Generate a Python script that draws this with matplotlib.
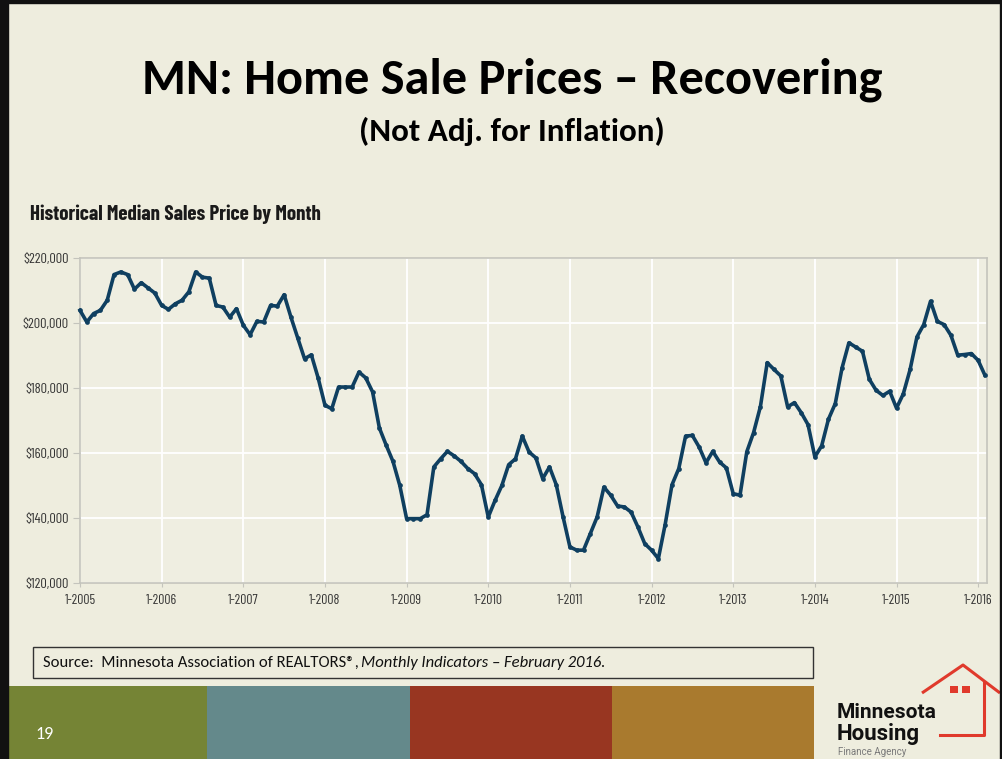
import matplotlib
matplotlib.use("Agg")
import matplotlib.pyplot as plt
from matplotlib import font_manager as fm
from matplotlib.patches import Rectangle
import numpy as np

# ---------------- data ----------------
title = "MN: Home Sale Prices \u2013 Recovering"
subtitle = "(Not Adj. for Inflation)"
chart_title = "Historical Median Sales Price by Month"
year_labels = ["1-2005", "1-2006", "1-2007", "1-2008", "1-2009", "1-2010",
               "1-2011", "1-2012", "1-2013", "1-2014", "1-2015", "1-2016"]
y_ticks = [120000, 140000, 160000, 180000, 200000, 220000]
y_tick_labels = ["$120,000", "$140,000", "$160,000", "$180,000", "$200,000", "$220,000"]

# median sale price, thousands of dollars, Jan 2005 .. Feb 2016
p2005 = [203.9, 200.3, 202.9, 203.9, 207.0, 214.9, 215.7, 214.9, 210.4, 212.4, 210.8, 209.2]
p2006 = [205.4, 204.2, 205.9, 207.0, 209.6, 215.7, 214.1, 213.8, 205.4, 204.9, 201.8, 204.4]
p2007 = [199.3, 196.4, 200.5, 200.3, 205.4, 205.2, 208.7, 201.8, 195.4, 189.0, 190.2, 183.1]
p2008 = [174.7, 173.6, 180.3, 180.3, 180.3, 184.9, 183.1, 178.8, 167.7, 162.4, 157.4, 150.0]
p2009 = [139.8, 139.8, 139.8, 141.0, 155.7, 158.2, 160.5, 159.1, 157.4, 155.2, 153.6, 150.2]
p2010 = [140.3, 145.4, 150.0, 156.4, 158.2, 165.2, 160.3, 158.5, 152.1, 155.7, 150.2, 140.3]
p2011 = [131.1, 130.1, 130.1, 135.2, 140.3, 149.5, 147.0, 143.7, 143.4, 141.8, 137.2, 132.1]
p2012 = [130.1, 127.5, 138.0, 150.2, 155.2, 165.2, 165.4, 161.8, 157.0, 160.5, 157.2, 155.4]
p2013 = [147.5, 147.0, 160.4, 166.3, 174.3, 187.8, 185.7, 183.7, 174.2, 175.5, 172.4, 168.7]
p2014 = [158.8, 162.2, 170.4, 175.2, 186.2, 193.9, 192.6, 191.3, 182.7, 179.3, 177.7, 179.0]
p2015 = [173.8, 178.2, 185.7, 195.7, 199.5, 206.7, 200.5, 199.5, 196.2, 190.1, 190.3, 190.6]
p2016 = [188.5, 183.9]

source_plain = "Source:  Minnesota Association of REALTORS\u00ae, "
source_italic = "Monthly Indicators \u2013 February 2016."
slide_number = "19"
logo_lines = ["Minnesota", "Housing", "Finance Agency"]
band_colors = ["#758435", "#64898B", "#983621", "#A97A2E"]

prices = np.array(p2005 + p2006 + p2007 + p2008 + p2009 + p2010 + p2011 +
                  p2012 + p2013 + p2014 + p2015 + p2016) * 1000
months = np.arange(len(prices))
year_pos = np.arange(len(year_labels)) * 12

# ---------------- fonts ----------------
names = {f.name for f in fm.fontManager.ttflist}


def pick(cands, default="DejaVu Sans"):
    for c in cands:
        if c in names:
            return c
    return default


head = pick(["Carlito", "Lato", "Open Sans"])
cond = pick(["Barlow Condensed", "Archivo Narrow", "Roboto Condensed",
             "IBM Plex Sans Condensed", "Open Sans Condensed"])
logo_font = pick(["Roboto", "Lato", "DejaVu Sans"])

W, H = 1003, 759
BG = "#EEEDDE"
fig = plt.figure(figsize=(W / 100, H / 100), dpi=100)
fig.patch.set_facecolor(BG)
renderer = fig.canvas.get_renderer()


def fit(t, target_w):
    """scale the font size of text t so that it is target_w pixels wide"""
    w = t.get_window_extent(renderer=renderer).width
    if w > 0:
        t.set_fontsize(t.get_fontsize() * target_w / w)
    return t


# overlay in pixel coordinates
ov = fig.add_axes([0, 0, 1, 1])
ov.set_xlim(0, W)
ov.set_ylim(H, 0)
ov.axis("off")

# slide border
ov.add_patch(Rectangle((0, 0), 8, H, color="#111111", zorder=5))
ov.add_patch(Rectangle((0, 0), W, 3, color="#111111", zorder=5))
ov.add_patch(Rectangle((W - 3, 0), 3, H, color="#111111", zorder=5))

fit(ov.text(512.5, 80, title, ha="center", va="center", fontsize=30, fontweight="bold",
            family=head, color="#000000"), 739)
fit(ov.text(511.5, 131, subtitle, ha="center", va="center", fontsize=20, fontweight="bold",
            family=head, color="#000000"), 307)
fit(ov.text(30, 214, chart_title, ha="left", va="center", fontsize=17, fontweight="bold",
            family=cond, color="#1a1a1a"), 292)

# source box
ov.add_patch(Rectangle((33, 647), 780, 31, facecolor="none", edgecolor="#333333", lw=1.0))
t1 = ov.text(43, 663, source_plain, ha="left", va="center", fontsize=11, family=head,
             color="#111111")
t2 = ov.text(0, 663, source_italic, ha="left", va="center", fontsize=11, family=head,
             style="italic", color="#111111")
w1 = t1.get_window_extent(renderer=renderer).width
w2 = t2.get_window_extent(renderer=renderer).width
scale = (609 - 43) / (w1 + w2)
t1.set_fontsize(11 * scale)
t2.set_fontsize(11 * scale)
w1 = t1.get_window_extent(renderer=renderer).width
t2.set_x(43 + w1 - 2)

# bottom colour bands
edges = [8, 207, 410, 612, 814]
for c, x0, x1 in zip(band_colors, edges[:-1], edges[1:]):
    ov.add_patch(Rectangle((x0, 686), x1 - x0, H - 686, color=c, lw=0))
ov.text(35, 739, slide_number, ha="left", va="baseline", fontsize=13, family=head,
        color="white")

# logo
red = "#E03A2C"
ov.plot([922, 963, 1000], [693, 665, 693], color=red, lw=2.2, solid_capstyle="butt")
ov.plot([984, 984, 940], [682, 735, 735], color=red, lw=2.2)
for wx in (950, 962):
    ov.add_patch(Rectangle((wx, 686), 8, 7, color=red, lw=0))
ov.text(837, 718, logo_lines[0], ha="left", va="baseline", fontsize=15, fontweight="bold",
        family=logo_font, color="#111111")
ov.text(837, 740, logo_lines[1], ha="left", va="baseline", fontsize=16, fontweight="bold",
        family=logo_font, color="#111111")
ov.text(838, 755, logo_lines[2], ha="left", va="baseline", fontsize=7,
        family=logo_font, color="#7a7a7a")

# ---------------- chart ----------------
left, right, top, bottom = 80, 987, 258, 583
ax = fig.add_axes([left / W, 1 - bottom / H, (right - left) / W, (bottom - top) / H])
ax.set_facecolor("#EFEEE1")
ax.plot(months, prices, color="#0F3F60", lw=2.6, marker="o", ms=3.4,
        markerfacecolor="#0F3F60", markeredgewidth=0, zorder=3, clip_on=False)
ax.set_xlim(0, 133.3)
ax.set_ylim(120000, 220000)
ax.set_xticks(year_pos)
ax.set_yticks(y_ticks)

# tick label size fitted to the reference label widths
probe_x = ov.text(0, -100, year_labels[0], family=cond, fontsize=9)
probe_y = ov.text(0, -100, y_tick_labels[0], family=cond, fontsize=9)
fit(probe_x, 31)
fit(probe_y, 43)
xs, ys = probe_x.get_fontsize(), probe_y.get_fontsize()
probe_x.remove()
probe_y.remove()
ax.set_xticklabels(year_labels, family=cond, fontsize=xs, color="#333333")
ax.set_yticklabels(y_tick_labels, family=cond, fontsize=ys, color="#333333")
for lab in ax.get_xticklabels():
    lab.set_verticalalignment("baseline")
ax.grid(True, color="white", lw=1.3)
ax.set_axisbelow(True)
for s in ax.spines.values():
    s.set_color("#C4C4BC")
    s.set_linewidth(1.2)
ax.tick_params(axis="x", length=3, color="#C4C4BC", pad=12)
ax.tick_params(axis="y", length=5, color="#C4C4BC", pad=3)

fig.savefig("out.png", dpi=100, facecolor=fig.get_facecolor())
